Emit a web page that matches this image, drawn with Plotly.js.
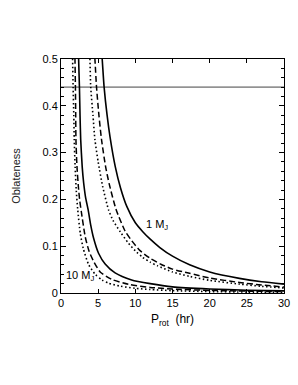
<!DOCTYPE html>
<html>
<head>
<meta charset="utf-8">
<script src="https://cdn.plot.ly/plotly-3.0.1.min.js"></script>
<style>html,body{margin:0;padding:0;background:#fff;}#chart{width:298px;height:385px;}</style>
</head>
<body>
<div id="chart"></div>
<script>
// Rotation period (hr) and oblateness
const oneMJ_solid_x  = [5.30, 5.54, 5.80, 6.20, 6.60, 7.30, 8.00, 8.85, 10.0, 11.0, 12.0, 13.3, 15.0, 17.3, 20.0, 24.0, 27.0, 30.0];
const oneMJ_solid_y  = [0.548, 0.50, 0.44, 0.38, 0.333, 0.27, 0.225, 0.185, 0.150, 0.131, 0.115, 0.0972, 0.0787, 0.0602, 0.045, 0.0313, 0.024, 0.019];
const oneMJ_dash_x   = [4.30, 4.56, 4.78, 5.10, 5.45, 6.00, 6.50, 7.42, 8.60, 9.50, 10.6, 12.0, 13.5, 15.0, 17.3, 20.0, 24.0, 27.0, 30.0];
const oneMJ_dash_y   = [0.56, 0.50, 0.44, 0.38, 0.328, 0.27, 0.232, 0.178, 0.133, 0.112, 0.091, 0.074, 0.061, 0.051, 0.042, 0.032, 0.0225, 0.017, 0.0128];
const oneMJ_dot_x    = [3.70, 3.89, 4.00, 4.30, 4.56, 5.00, 5.60, 6.39, 7.00, 8.00, 9.00, 10.0, 11.0, 12.0, 13.0, 15.0, 17.3, 20.0, 24.0, 27.0, 30.0];
const oneMJ_dot_y    = [0.56, 0.50, 0.44, 0.38, 0.328, 0.28, 0.228, 0.178, 0.155, 0.130, 0.108, 0.090, 0.076, 0.066, 0.058, 0.045, 0.0355, 0.027, 0.019, 0.0143, 0.0107];
const tenMJ_solid_x  = [2.30, 2.37, 2.48, 2.56, 2.65, 2.85, 3.05, 3.30, 3.65, 4.00, 4.38, 5.05, 5.94, 7.28, 9.50, 12.0, 15.0, 20.0, 25.0, 30.0];
const tenMJ_solid_y  = [0.56, 0.50, 0.44, 0.38, 0.328, 0.27, 0.235, 0.205, 0.178, 0.145, 0.1175, 0.085, 0.062, 0.043, 0.028, 0.020, 0.013, 0.0085, 0.006, 0.0045];
const tenMJ_dash_x   = [1.80, 1.88, 1.94, 1.98, 2.01, 2.15, 2.35, 2.50, 2.75, 3.26, 3.80, 4.38, 5.27, 6.84, 9.07, 12.0, 15.0, 20.0, 25.0, 30.0];
const tenMJ_dash_y   = [0.56, 0.50, 0.44, 0.38, 0.328, 0.27, 0.225, 0.20, 0.172, 0.12, 0.088, 0.068, 0.045, 0.029, 0.0185, 0.012, 0.0085, 0.0055, 0.004, 0.003];
const tenMJ_dot_x    = [1.48, 1.56, 1.63, 1.72, 1.78, 1.90, 2.05, 2.25, 2.59, 3.00, 3.71, 4.60, 5.50, 6.40, 8.00, 10.0, 12.0, 15.0, 20.0, 25.0, 30.0];
const tenMJ_dot_y    = [0.56, 0.50, 0.44, 0.38, 0.328, 0.27, 0.22, 0.178, 0.128, 0.095, 0.061, 0.040, 0.028, 0.021, 0.0145, 0.010, 0.0075, 0.005, 0.003, 0.002, 0.0015];
const limitX = [0, 30];
const limitY = [0.44, 0.44];
const xTicks = [0, 5, 10, 15, 20, 25, 30];
const yTicks = [0, 0.1, 0.2, 0.3, 0.4, 0.5];

const FONT = 'Liberation Sans, Arial, Helvetica, sans-serif';
function curve(x, y, dash, w) {
  return {x: x, y: y, type: 'scatter', mode: 'lines',
    line: {color: '#000', width: w, dash: dash, shape: 'spline', smoothing: 0.6},
    hoverinfo: 'skip', showlegend: false};
}
const traces = [
  {x: limitX, y: limitY, type: 'scatter', mode: 'lines', line: {color: '#444', width: 1}, hoverinfo: 'skip', showlegend: false},
  curve(oneMJ_solid_x, oneMJ_solid_y, 'solid', 1.6),
  curve(oneMJ_dash_x, oneMJ_dash_y, '6px,3px', 1.5),
  curve(oneMJ_dot_x, oneMJ_dot_y, '1.5px,2.5px', 1.6),
  curve(tenMJ_solid_x, tenMJ_solid_y, 'solid', 1.6),
  curve(tenMJ_dash_x, tenMJ_dash_y, '6px,3px', 1.5),
  curve(tenMJ_dot_x, tenMJ_dot_y, '1.5px,2.5px', 1.6)
];

const layout = {
  width: 298, height: 385,
  margin: {l: 61, r: 14, t: 59, b: 92},
  paper_bgcolor: '#fff', plot_bgcolor: '#fff',
  font: {family: FONT, size: 11, color: '#000'},
  showlegend: false,
  xaxis: {
    range: [0, 30], tickvals: xTicks, ticktext: xTicks.map(String),
    ticks: 'inside', ticklen: 4, tickwidth: 1, tickcolor: '#000',
    showline: true, linecolor: '#000', linewidth: 1, mirror: 'ticks',
    showgrid: false, zeroline: false, fixedrange: true,
    tickfont: {family: FONT, size: 11, color: '#000'},
    title: {text: 'P<sub>rot</sub>  (hr)', font: {family: FONT, size: 12, color: '#000'}, standoff: 6}
  },
  yaxis: {
    range: [0, 0.5], tickvals: yTicks, ticktext: yTicks.map(String),
    ticks: 'inside', ticklen: 5, tickwidth: 1, tickcolor: '#000',
    minor: {dtick: 0.02, ticks: 'inside', ticklen: 3, tickcolor: '#000', showgrid: false},
    showline: true, linecolor: '#000', linewidth: 1, mirror: 'ticks',
    showgrid: false, zeroline: false, fixedrange: true,
    tickfont: {family: FONT, size: 11, color: '#000'},
    title: {text: 'Oblateness', font: {family: FONT, size: 11, color: '#222'}, standoff: 19}
  },
  annotations: [
    {x: 12.9, y: 0.146, xref: 'x', yref: 'y', text: '1 M<sub>J</sub>', showarrow: false,
     font: {family: FONT, size: 11, color: '#000'}},
    {x: 2.6, y: 0.036, xref: 'x', yref: 'y', text: '10 M<sub>J</sub>', showarrow: false,
     font: {family: FONT, size: 11, color: '#000'}}
  ]
};
Plotly.newPlot('chart', traces, layout, {staticPlot: true, displayModeBar: false});
</script>
</body>
</html>
